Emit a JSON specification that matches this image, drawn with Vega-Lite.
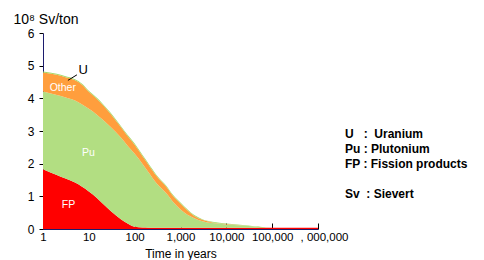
{
  "$schema": "https://vega.github.io/schema/vega-lite/v6.json",
  "width": 275,
  "height": 196,
  "autosize": {"type": "none"},
  "padding": {"left": 43, "top": 33, "right": 166, "bottom": 31},
  "background": "white",
  "config": {"view": {"stroke": null}, "font": "Liberation Sans"},
  "datasets": {
    "series": [
      {"t": 1, "series": "FP", "v": 1.83}, {"t": 1, "series": "Pu", "v": 2.38}, {"t": 1, "series": "Other", "v": 0.58}, {"t": 1, "series": "U", "v": 0.035},
      {"t": 2, "series": "FP", "v": 1.65}, {"t": 2, "series": "Pu", "v": 2.45}, {"t": 2, "series": "Other", "v": 0.62}, {"t": 2, "series": "U", "v": 0.035},
      {"t": 3, "series": "FP", "v": 1.55}, {"t": 3, "series": "Pu", "v": 2.48}, {"t": 3, "series": "Other", "v": 0.62}, {"t": 3, "series": "U", "v": 0.035},
      {"t": 5, "series": "FP", "v": 1.42}, {"t": 5, "series": "Pu", "v": 2.51}, {"t": 5, "series": "Other", "v": 0.62}, {"t": 5, "series": "U", "v": 0.035},
      {"t": 7, "series": "FP", "v": 1.30}, {"t": 7, "series": "Pu", "v": 2.52}, {"t": 7, "series": "Other", "v": 0.60}, {"t": 7, "series": "U", "v": 0.035},
      {"t": 10, "series": "FP", "v": 1.15}, {"t": 10, "series": "Pu", "v": 2.53}, {"t": 10, "series": "Other", "v": 0.52}, {"t": 10, "series": "U", "v": 0.035},
      {"t": 15, "series": "FP", "v": 0.95}, {"t": 15, "series": "Pu", "v": 2.55}, {"t": 15, "series": "Other", "v": 0.48}, {"t": 15, "series": "U", "v": 0.035},
      {"t": 20, "series": "FP", "v": 0.78}, {"t": 20, "series": "Pu", "v": 2.57}, {"t": 20, "series": "Other", "v": 0.45}, {"t": 20, "series": "U", "v": 0.035},
      {"t": 30, "series": "FP", "v": 0.55}, {"t": 30, "series": "Pu", "v": 2.57}, {"t": 30, "series": "Other", "v": 0.40}, {"t": 30, "series": "U", "v": 0.035},
      {"t": 50, "series": "FP", "v": 0.30}, {"t": 50, "series": "Pu", "v": 2.50}, {"t": 50, "series": "Other", "v": 0.32}, {"t": 50, "series": "U", "v": 0.035},
      {"t": 70, "series": "FP", "v": 0.17}, {"t": 70, "series": "Pu", "v": 2.38}, {"t": 70, "series": "Other", "v": 0.30}, {"t": 70, "series": "U", "v": 0.035},
      {"t": 100, "series": "FP", "v": 0.07}, {"t": 100, "series": "Pu", "v": 2.23}, {"t": 100, "series": "Other", "v": 0.28}, {"t": 100, "series": "U", "v": 0.035},
      {"t": 150, "series": "FP", "v": 0.045}, {"t": 150, "series": "Pu", "v": 1.935}, {"t": 150, "series": "Other", "v": 0.24}, {"t": 150, "series": "U", "v": 0.035},
      {"t": 200, "series": "FP", "v": 0.04}, {"t": 200, "series": "Pu", "v": 1.70}, {"t": 200, "series": "Other", "v": 0.23}, {"t": 200, "series": "U", "v": 0.035},
      {"t": 300, "series": "FP", "v": 0.04}, {"t": 300, "series": "Pu", "v": 1.36}, {"t": 300, "series": "Other", "v": 0.22}, {"t": 300, "series": "U", "v": 0.035},
      {"t": 500, "series": "FP", "v": 0.04}, {"t": 500, "series": "Pu", "v": 1.04}, {"t": 500, "series": "Other", "v": 0.20}, {"t": 500, "series": "U", "v": 0.03},
      {"t": 700, "series": "FP", "v": 0.04}, {"t": 700, "series": "Pu", "v": 0.78}, {"t": 700, "series": "Other", "v": 0.18}, {"t": 700, "series": "U", "v": 0.03},
      {"t": 1000, "series": "FP", "v": 0.04}, {"t": 1000, "series": "Pu", "v": 0.56}, {"t": 1000, "series": "Other", "v": 0.18}, {"t": 1000, "series": "U", "v": 0.03},
      {"t": 2000, "series": "FP", "v": 0.04}, {"t": 2000, "series": "Pu", "v": 0.29}, {"t": 2000, "series": "Other", "v": 0.07}, {"t": 2000, "series": "U", "v": 0.025},
      {"t": 3000, "series": "FP", "v": 0.04}, {"t": 3000, "series": "Pu", "v": 0.20}, {"t": 3000, "series": "Other", "v": 0.04}, {"t": 3000, "series": "U", "v": 0.02},
      {"t": 5000, "series": "FP", "v": 0.04}, {"t": 5000, "series": "Pu", "v": 0.14}, {"t": 5000, "series": "Other", "v": 0.02}, {"t": 5000, "series": "U", "v": 0.02},
      {"t": 10000, "series": "FP", "v": 0.04}, {"t": 10000, "series": "Pu", "v": 0.10}, {"t": 10000, "series": "Other", "v": 0.01}, {"t": 10000, "series": "U", "v": 0.015},
      {"t": 30000, "series": "FP", "v": 0.04}, {"t": 30000, "series": "Pu", "v": 0.05}, {"t": 30000, "series": "Other", "v": 0.005}, {"t": 30000, "series": "U", "v": 0.01},
      {"t": 100000, "series": "FP", "v": 0.04}, {"t": 100000, "series": "Pu", "v": 0.0}, {"t": 100000, "series": "Other", "v": 0.0}, {"t": 100000, "series": "U", "v": 0.0},
      {"t": 1000000, "series": "FP", "v": 0.04}, {"t": 1000000, "series": "Pu", "v": 0.0}, {"t": 1000000, "series": "Other", "v": 0.0}, {"t": 1000000, "series": "U", "v": 0.0}
    ],
    "labels": [
      {"t": 2.7, "v": 4.31, "label": "Other"},
      {"t": 9.85, "v": 2.32, "label": "Pu"},
      {"t": 3.6, "v": 0.75, "label": "FP"},
      {"t": 7.5, "v": 4.88, "label": "U"}
    ],
    "leader": [
      {"t": 3.5, "v": 4.55, "t2": 5.5, "v2": 4.72}
    ],
    "key": [
      {"key": "U\u00a0\u00a0\u00a0:\u00a0\u00a0Uranium"},
      {"key": "Pu : Plutonium"},
      {"key": "FP : Fission products"},
      {"key": "\u00a0"},
      {"key": "Sv\u00a0\u00a0: Sievert"}
    ]
  },
  "layer": [
    {
      "encoding": {
        "x": {
          "field": "t", "type": "quantitative",
          "scale": {"type": "log", "domain": [1, 1000000]},
          "axis": {
            "values": [1, 10, 100, 1000, 10000, 100000, 1000000],
            "labelExpr": "datum.value == 1000000 ? ', 000,000' : format(datum.value, ',')",
            "labelOffset": {"condition": {"test": "datum.value == 1000000", "value": 6}, "value": 0},
            "labelOverlap": false,
            "grid": false, "tickSize": -6, "tickColor": "#000000", "domainColor": "#1c1c6e",
            "labelFontSize": 11.5, "labelColor": "#000000", "labelPadding": 8, "labelFlush": false,
            "title": "Time in years", "titleFontSize": 12, "titleFontWeight": "normal", "titleColor": "#000000", "titlePadding": 6
          }
        },
        "y": {
          "field": "v", "type": "quantitative",
          "scale": {"domain": [0, 6], "nice": false},
          "axis": {
            "values": [0, 1, 2, 3, 4, 5, 6],
            "tickCount": 7,
            "labelOverlap": false,
            "grid": false, "tickSize": 4, "tickColor": "#000000", "domainColor": "#1c1c6e",
            "labelFontSize": 12, "labelColor": "#000000", "labelPadding": 5,
            "title": "10⁸ Sv/ton", "titleAngle": 0, "titleAlign": "left", "titleBaseline": "alphabetic",
            "titleX": -30, "titleY": -10, "titleFontSize": 14, "titleFontWeight": "normal", "titleColor": "#000000"
          }
        }
      },
      "layer": [
        {
          "data": {"name": "series"},
          "transform": [
            {"calculate": "indexof(['FP', 'Pu', 'Other', 'U'], datum.series)", "as": "stackOrder"}
          ],
          "mark": {"type": "area", "interpolate": "monotone"},
          "encoding": {
            "color": {
              "field": "series", "type": "nominal",
              "scale": {"domain": ["FP", "Pu", "Other", "U"], "range": ["#ff0000", "#b2de82", "#ff9e3d", "#a6d96a"]},
              "legend": null
            },
            "order": {"field": "stackOrder", "type": "quantitative", "sort": "ascending"}
          }
        },
        {
          "data": {"name": "leader"},
          "mark": {"type": "rule", "color": "#000000", "strokeWidth": 1},
          "encoding": {
            "x2": {"field": "t2"},
            "y2": {"field": "v2"}
          }
        },
        {
          "data": {"name": "labels"},
          "mark": {"type": "text", "align": "center", "baseline": "middle"},
          "encoding": {
            "text": {"field": "label"},
            "color": {"condition": {"test": "datum.label == 'U'", "value": "#000000"}, "value": "#ffffff"},
            "size": {"condition": {"test": "datum.label == 'U'", "value": 13}, "value": 10.5}
          }
        }
      ]
    },
    {
      "data": {"name": "key"},
      "mark": {"type": "point", "opacity": 0},
      "encoding": {
        "color": {
          "field": "key", "type": "nominal", "sort": null,
          "scale": {"range": ["#000000"]},
          "legend": {
            "orient": "none", "legendX": 290, "legendY": 95, "title": null,
            "symbolSize": 0, "symbolOpacity": 0, "symbolStrokeWidth": 0, "labelOffset": 0,
            "labelFontSize": 12, "labelFontWeight": "bold", "labelColor": "#000000",
            "rowPadding": 3, "padding": 0, "labelLimit": 300
          }
        }
      }
    }
  ],
  "resolve": {"scale": {"color": "independent"}}
}
